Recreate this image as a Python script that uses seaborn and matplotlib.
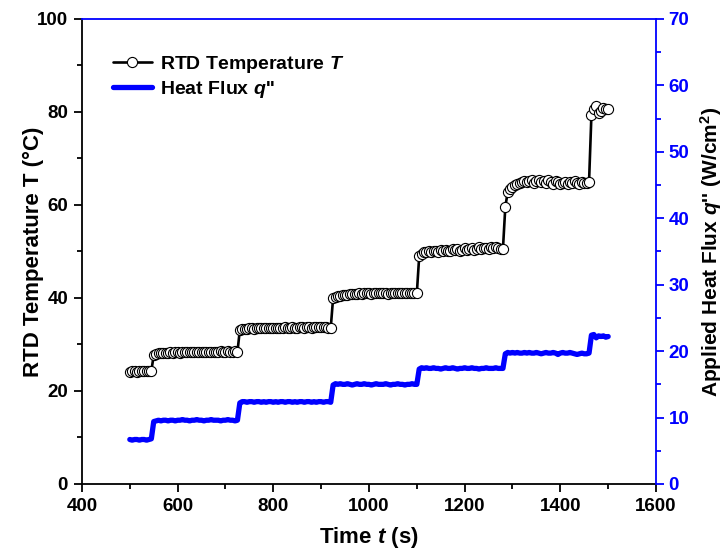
import numpy as np
import pandas as pd
import matplotlib
matplotlib.use("Agg")
import matplotlib.pyplot as plt
import seaborn as sns

# Sampling clock (s), one reading every 5 s
time_s = np.arange(500, 1505, 5)

# RTD temperature readings (°C)
temperature_c = [
    # 500-545
    24.1, 24.2, 24.2, 24.1, 24.2, 24.3, 24.2, 24.2, 24.3, 24.3,
    # 550-725
    27.7, 28.0, 28.1, 28.1, 28.2, 28.2, 28.2, 28.3, 28.2, 28.3, 28.3, 28.2,
    28.3, 28.3, 28.4, 28.3, 28.3, 28.4, 28.3, 28.4, 28.4, 28.3, 28.4, 28.4,
    28.3, 28.4, 28.4, 28.4, 28.5, 28.4, 28.4, 28.5, 28.4, 28.4, 28.5, 28.4,
    # 730-920
    33.1, 33.3, 33.4, 33.4, 33.5, 33.5, 33.4, 33.5, 33.5, 33.6, 33.5, 33.5,
    33.6, 33.5, 33.6, 33.6, 33.5, 33.6, 33.6, 33.7, 33.6, 33.6, 33.7, 33.6,
    33.6, 33.7, 33.7, 33.6, 33.7, 33.7, 33.6, 33.7, 33.8, 33.7, 33.7, 33.8,
    33.7, 33.6, 33.5,
    # 925-1100
    40.0, 40.3, 40.4, 40.5, 40.6, 40.6, 40.7, 40.8, 40.8, 40.9, 40.9, 41.0,
    40.9, 41.0, 41.1, 41.0, 40.9, 41.0, 41.1, 41.0, 41.0, 41.1, 41.0, 40.9,
    41.0, 41.1, 41.0, 41.0, 41.1, 41.0, 41.0, 41.1, 41.0, 41.1, 41.0, 41.0,
    # 1105-1280
    49.0, 49.5, 49.8, 49.9, 50.0, 49.9, 50.1, 50.2, 49.9, 50.3, 50.1, 50.4,
    50.2, 50.0, 50.5, 50.3, 50.6, 50.2, 50.4, 50.7, 50.3, 50.5, 50.8, 50.4,
    50.6, 50.9, 50.5, 50.7, 50.8, 50.6, 50.9, 50.7, 51.0, 50.8, 50.6, 50.5,
    # 1285
    59.6,
    # 1290-1460
    62.8, 63.5, 63.9, 64.2, 64.5, 64.8, 65.0, 65.1, 64.9, 65.2, 65.3, 64.8,
    65.1, 65.4, 64.9, 65.2, 64.7, 65.3, 65.0, 64.6, 65.2, 64.9, 64.5, 64.8,
    65.0, 64.6, 64.9, 64.7, 65.1, 64.8, 64.5, 64.9, 64.7, 64.8, 64.9,
    # 1465-1500
    79.4, 80.6, 81.2, 79.8, 80.3, 80.9, 80.6, 80.7,
]

# Applied heat flux (W/cm^2)
heat_flux = [
    # 500-545
    6.7, 6.6, 6.7, 6.7, 6.6, 6.7, 6.7, 6.6, 6.7, 6.8,
    # 550-725
    9.4, 9.5, 9.6, 9.5, 9.6, 9.6, 9.5, 9.6, 9.6, 9.5, 9.6, 9.6,
    9.7, 9.6, 9.6, 9.5, 9.6, 9.6, 9.7, 9.6, 9.6, 9.5, 9.6, 9.6,
    9.7, 9.6, 9.6, 9.6, 9.5, 9.6, 9.6, 9.7, 9.6, 9.6, 9.5, 9.6,
    # 730-920
    12.2, 12.4, 12.4, 12.3, 12.4, 12.4, 12.3, 12.4, 12.4, 12.3, 12.4, 12.3,
    12.4, 12.4, 12.3, 12.4, 12.3, 12.4, 12.4, 12.3, 12.4, 12.4, 12.3, 12.4,
    12.3, 12.4, 12.4, 12.3, 12.4, 12.4, 12.3, 12.4, 12.3, 12.4, 12.4, 12.3,
    12.4, 12.4, 12.3,
    # 925-1100
    14.9, 15.1, 15.0, 15.1, 15.0, 15.0, 15.1, 15.0, 14.9, 15.0, 15.1, 15.0,
    15.0, 15.1, 15.0, 15.0, 14.9, 15.0, 15.1, 15.0, 15.0, 15.0, 15.1, 15.0,
    14.9, 15.0, 15.0, 15.1, 15.0, 15.0, 14.9, 15.0, 15.0, 15.1, 15.0, 15.0,
    # 1105-1280
    17.3, 17.5, 17.4, 17.5, 17.4, 17.4, 17.5, 17.4, 17.4, 17.3, 17.4, 17.5,
    17.4, 17.4, 17.5, 17.4, 17.3, 17.4, 17.4, 17.5, 17.4, 17.4, 17.5, 17.4,
    17.4, 17.3, 17.4, 17.4, 17.5, 17.4, 17.4, 17.4, 17.5, 17.4, 17.4, 17.4,
    # 1285-1460
    19.6, 19.8, 19.7, 19.8, 19.7, 19.8, 19.7, 19.7, 19.8, 19.7, 19.8, 19.7,
    19.7, 19.8, 19.7, 19.6, 19.7, 19.8, 19.7, 19.7, 19.8, 19.7, 19.5, 19.7,
    19.8, 19.7, 19.7, 19.8, 19.7, 19.6, 19.5, 19.6, 19.7, 19.6, 19.6, 19.7,
    # 1465-1500
    22.4, 22.5, 22.0, 22.3, 22.2, 22.3, 22.1, 22.2,
]

x_major = [400, 600, 800, 1000, 1200, 1400, 1600]
x_minor = [500, 700, 900, 1100, 1300, 1500]
t_major = [0, 20, 40, 60, 80, 100]
t_minor = [10, 30, 50, 70, 90]
q_major = [0, 10, 20, 30, 40, 50, 60, 70]
q_minor = [5, 15, 25, 35, 45, 55, 65]

df = pd.DataFrame({"time": time_s, "temperature": temperature_c, "flux": heat_flux})

sns.set_style("ticks")
plt.rcParams["font.family"] = ["Liberation Sans", "DejaVu Sans"]
plt.rcParams["font.weight"] = "bold"
plt.rcParams["axes.labelweight"] = "bold"
plt.rcParams["text.color"] = "black"
plt.rcParams["axes.labelcolor"] = "black"
plt.rcParams["xtick.color"] = "black"
plt.rcParams["ytick.color"] = "black"
plt.rcParams["mathtext.fontset"] = "custom"
plt.rcParams["mathtext.rm"] = "Liberation Sans:bold"
plt.rcParams["mathtext.it"] = "Liberation Sans:italic:bold"
plt.rcParams["mathtext.bf"] = "Liberation Sans:bold"

BLUE = "#0000ff"
TICK_FS = 13.5
LABEL_FS = 16

fig = plt.figure(figsize=(7.28, 5.5), dpi=100)
ax = fig.add_axes([0.1126, 0.12, 0.7885, 0.8455])
ax2 = ax.twinx()

sns.lineplot(data=df, x="time", y="flux", ax=ax2, color=BLUE,
             linewidth=3.8, label=r"Heat Flux $q$''", legend=False)
sns.lineplot(data=df, x="time", y="temperature", ax=ax, color="black",
             linewidth=1.9, marker="o", markersize=7.3, markerfacecolor="white",
             markeredgecolor="black", markeredgewidth=0.8,
             label=r"RTD Temperature $T$", legend=False)

ax.set_xlim(400, 1600)
ax.set_ylim(0, 100)
ax2.set_ylim(0, 70)

ax.set_xticks(x_major)
ax.set_xticks(x_minor, minor=True)
ax.set_yticks(t_major)
ax.set_yticks(t_minor, minor=True)
ax2.set_yticks(q_major)
ax2.set_yticks(q_minor, minor=True)

ax.tick_params(axis="both", which="major", direction="out", length=6, width=1.3,
               colors="black", labelsize=TICK_FS, pad=4)
ax.tick_params(axis="both", which="minor", direction="out", length=3.5, width=1.3,
               colors="black")
ax2.tick_params(axis="y", which="major", direction="out", length=6, width=1.3,
                colors=BLUE, labelsize=TICK_FS, pad=3)
ax2.tick_params(axis="y", which="minor", direction="out", length=3.5, width=1.3,
                colors=BLUE)

for lab in ax.get_xticklabels() + ax.get_yticklabels() + ax2.get_yticklabels():
    lab.set_fontweight("bold")
    lab.set_fontsize(TICK_FS)
for lab in ax2.get_yticklabels():
    lab.set_color(BLUE)

for name in ("left", "bottom"):
    ax.spines[name].set_color("black")
    ax.spines[name].set_linewidth(1.3)
for name in ("right", "top"):
    ax2.spines[name].set_color(BLUE)
    ax2.spines[name].set_linewidth(1.3)
    ax.spines[name].set_visible(False)
ax2.spines["left"].set_visible(False)
ax2.spines["bottom"].set_visible(False)

ax.set_xlabel(r"Time $t$ (s)", fontsize=LABEL_FS, fontweight="bold")
ax.xaxis.set_label_coords(0.5, -0.088)
ax.set_ylabel("RTD Temperature T (°C)", fontsize=LABEL_FS, fontweight="bold")
ax.yaxis.set_label_coords(-0.066, 0.5)
ax2.set_ylabel(r"Applied Heat Flux $q$'' (W/cm$^{2}$)", fontsize=15,
               fontweight="bold", color="black")
ax2.yaxis.set_label_coords(1.074, 0.5)

h1, l1 = ax.get_legend_handles_labels()
h2, l2 = ax2.get_legend_handles_labels()
leg = ax.legend(h1 + h2, l1 + l2, loc="upper left", bbox_to_anchor=(0.054, 0.925),
                frameon=False, fontsize=14, handlelength=2.0, handletextpad=0.4,
                labelspacing=0.2, borderpad=0, borderaxespad=0)
for txt in leg.get_texts():
    txt.set_fontweight("bold")

fig.savefig("out.png", dpi=100)
